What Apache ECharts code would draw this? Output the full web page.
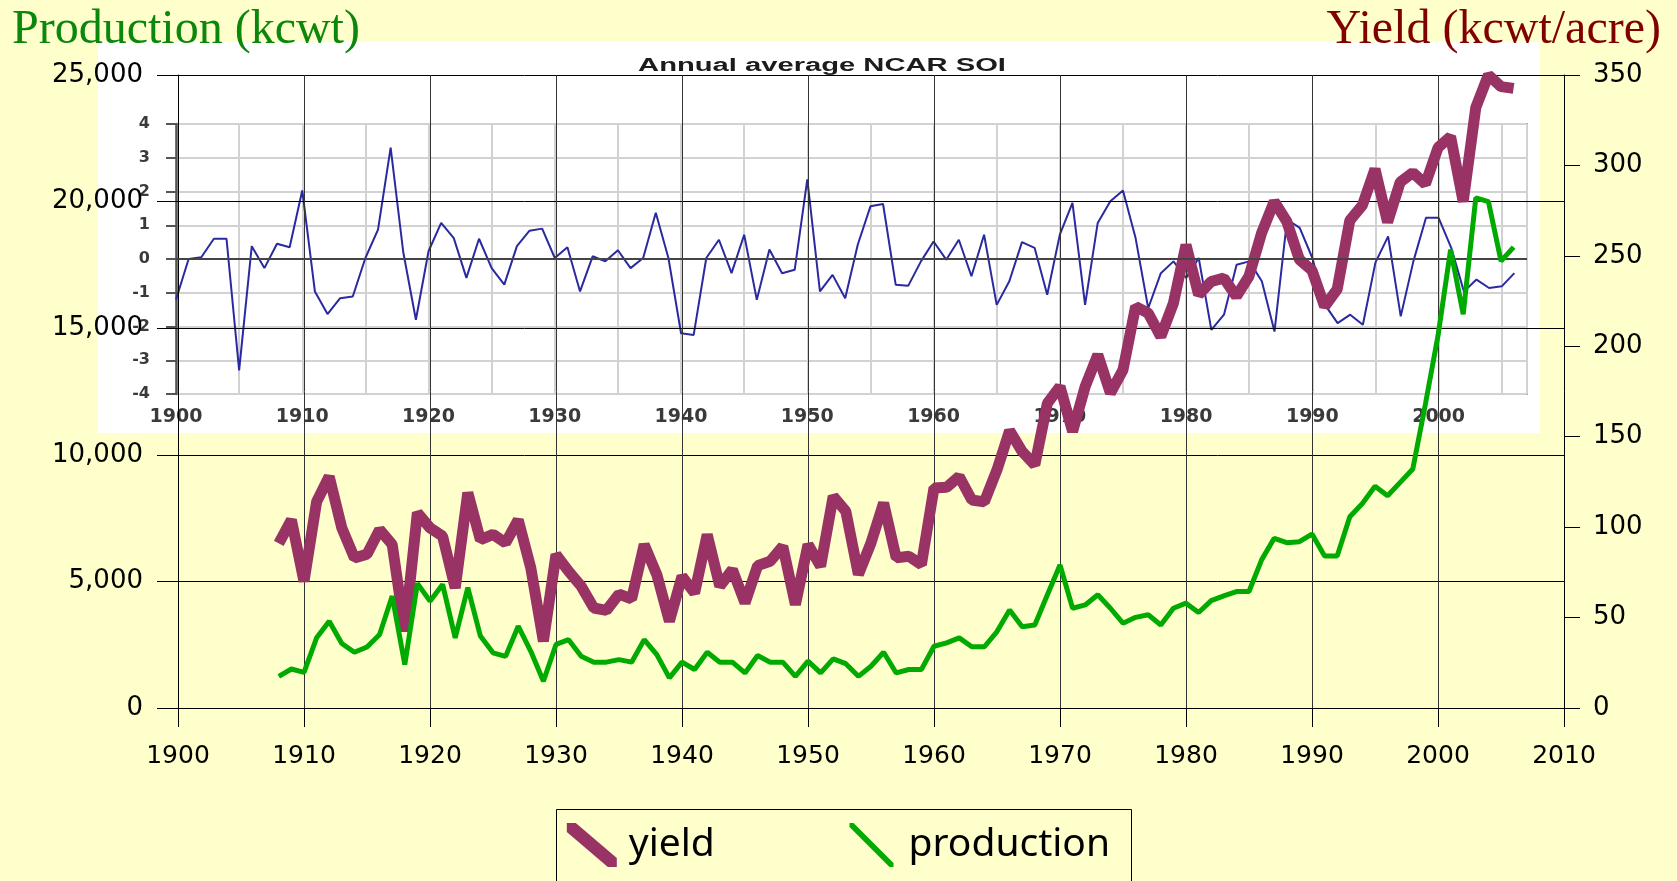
<!DOCTYPE html>
<html>
<head>
<meta charset="utf-8">
<script src="https://cdn.jsdelivr.net/npm/echarts@6/dist/echarts.min.js"></script>
<style>
  html, body { margin: 0; padding: 0; background: #ffffcc; }
  #chart { width: 1677px; height: 881px; }
</style>
</head>
<body>
<div id="chart"></div>
<script>
// Crop years (yield and production series)
const cropYears = [
  1908,1909,1910,1911,1912,1913,1914,1915,1916,1917,
  1918,1919,1920,1921,1922,1923,1924,1925,1926,1927,
  1928,1929,1930,1931,1932,1933,1934,1935,1936,1937,
  1938,1939,1940,1941,1942,1943,1944,1945,1946,1947,
  1948,1949,1950,1951,1952,1953,1954,1955,1956,1957,
  1958,1959,1960,1961,1962,1963,1964,1965,1966,1967,
  1968,1969,1970,1971,1972,1973,1974,1975,1976,1977,
  1978,1979,1980,1981,1982,1983,1984,1985,1986,1987,
  1988,1989,1990,1991,1992,1993,1994,1995,1996,1997,
  1998,1999,2000,2001,2002,2003,2004,2005,2006
];

// Yield, kcwt/acre (right axis)
const yieldValues = [
  91,104,70,114,128,99.6,83,85,98.6,90.4,
  42.4,108,99.6,95,66.4,119,93,96,91.3,104,
  77.4,36.9,84.8,75.6,67.3,55.3,54,63,60.3,90.4,
  73.8,47.9,72.8,63.6,95.9,67.3,76.5,58.1,78.7,81.1,
  89.4,57.2,90.4,78.4,117.1,108.8,73.8,91.3,113.4,83,
  83.9,79.3,121.7,122,128,115,114,131.7,153.4,141.8,
  134.4,168.5,177.8,152.9,177.8,195.3,174.1,187,222,218.3,
  205.4,223.8,256.1,228.5,235.8,237.7,227.6,238.7,262.6,280.1,
  269,248,242,222,231.5,269.6,278,298,268.6,290.8,
  296,289.7,309.8,316,280,332,350,343.6,342.6
];

// Production, kcwt (left axis)
const productionValues = [
  1250,1540,1410,2770,3430,2550,2200,2410,2900,4420,
  1715,4920,4220,4880,2770,4750,2840,2180,2040,3230,
  2240,1055,2510,2700,2040,1810,1810,1910,1810,2700,
  2110,1190,1810,1520,2200,1810,1810,1385,2070,1810,
  1810,1250,1850,1385,1940,1750,1250,1650,2200,1385,
  1520,1520,2440,2570,2770,2420,2420,3020,3870,3210,
  3280,4470,5650,3940,4070,4470,3940,3350,3580,3680,
  3280,3940,4140,3770,4240,4430,4600,4600,5850,6700,
  6530,6570,6870,6000,6000,7550,8080,8760,8380,8910,
  9440,12000,14700,18100,15550,20150,20000,17650,18200
];

// Annual average NCAR SOI (inset)
const soiYears = [
  1900,1901,1902,1903,1904,1905,1906,1907,1908,1909,
  1910,1911,1912,1913,1914,1915,1916,1917,1918,1919,
  1920,1921,1922,1923,1924,1925,1926,1927,1928,1929,
  1930,1931,1932,1933,1934,1935,1936,1937,1938,1939,
  1940,1941,1942,1943,1944,1945,1946,1947,1948,1949,
  1950,1951,1952,1953,1954,1955,1956,1957,1958,1959,
  1960,1961,1962,1963,1964,1965,1966,1967,1968,1969,
  1970,1971,1972,1973,1974,1975,1976,1977,1978,1979,
  1980,1981,1982,1983,1984,1985,1986,1987,1988,1989,
  1990,1991,1992,1993,1994,1995,1996,1997,1998,1999,
  2000,2001,2002,2003,2004,2005,2006
];
const soiValues = [
  -1.2,0.0,0.05,0.6,0.6,-3.3,0.38,-0.27,0.45,0.35,
  2.03,-0.96,-1.63,-1.16,-1.11,0.03,0.87,3.3,0.2,-1.8,
  0.23,1.07,0.62,-0.56,0.6,-0.27,-0.76,0.38,0.84,0.9,
  0.03,0.35,-0.96,0.08,-0.07,0.26,-0.27,0.03,1.37,0.03,
  -2.2,-2.25,0.03,0.57,-0.42,0.72,-1.21,0.28,-0.42,-0.32,
  2.36,-0.96,-0.47,-1.16,0.43,1.56,1.63,-0.76,-0.79,-0.07,
  0.52,-0.02,0.57,-0.51,0.72,-1.36,-0.66,0.5,0.33,-1.06,
  0.72,1.66,-1.36,1.07,1.71,2.03,0.62,-1.46,-0.42,-0.07,
  -0.56,0.03,-2.1,-1.65,-0.17,-0.07,-0.66,-2.15,1.17,0.92,
  0.03,-1.36,-1.9,-1.65,-1.95,-0.1,0.67,-1.7,-0.07,1.22,
  1.22,0.33,-0.96,-0.61,-0.86,-0.81,-0.42
];

// Tick labels
const yearTicks = [1900,1910,1920,1930,1940,1950,1960,1970,1980,1990,2000,2010];
const productionTicks = [0,5000,10000,15000,20000,25000];
const yieldTicks = [0,50,100,150,200,250,300,350];
const soiTicks = [-4,-3,-2,-1,0,1,2,3,4];
const soiYearTicks = [1900,1910,1920,1930,1940,1950,1960,1970,1980,1990,2000];
const soiYearEnd = 2007;

const pairs = (xs, ys) => xs.map((x, i) => [x, ys[i]]);
const step = arr => arr[1] - arr[0];
const last = arr => arr[arr.length - 1];

const AXIS_FONT = '"DejaVu Sans", Verdana, sans-serif';
const SERIF = '"Liberation Serif", "Times New Roman", serif';

// Legend glyphs: diagonal strokes
const yieldIcon = 'path://M0,0 L9,0 L50,35 L50,44 L41,44 L0,9 Z';
const productionIcon = 'path://M0,0 L4,0 L44,40 L44,44 L40,44 L0,4 Z';

const chart = echarts.init(document.getElementById('chart'), null, { renderer: 'canvas', width: 1677, height: 881 });

const option = {
  backgroundColor: '#ffffcc',
  animation: false,
  graphic: [
    { type: 'rect', z: 0, silent: true, shape: { x: 98, y: 42, width: 1442, height: 391 }, style: { fill: '#ffffff' } },
    { type: 'text', z: 1, silent: true, x: 822, y: 66, scaleX: 1.62,
      style: { text: 'Annual average NCAR SOI', font: 'bold 18px "Liberation Sans", Arial, sans-serif', fill: '#1c1c1c', align: 'center', verticalAlign: 'middle' } },
    { type: 'rect', z: 10, silent: true, shape: { x: 556.5, y: 809.5, width: 575, height: 120 }, style: { fill: 'none', stroke: '#000', lineWidth: 1 } }
  ],
  title: [
    { text: 'Production (kcwt)', left: 12, top: 6, padding: 0,
      textStyle: { fontFamily: SERIF, fontSize: 48, fontWeight: 'normal', color: '#0b870b' } },
    { text: 'Yield (kcwt/acre)', right: 16, top: 6, padding: 0,
      textStyle: { fontFamily: SERIF, fontSize: 48, fontWeight: 'normal', color: '#800000' } }
  ],
  legend: [
    { data: [{ name: 'yield', icon: yieldIcon }], left: 566.8, top: 823, padding: 0, itemWidth: 50, itemHeight: 44,
      selectedMode: false, itemStyle: { borderWidth: 0 },
      textStyle: { fontFamily: '"Noto Sans", "Open Sans", sans-serif', fontSize: 39, color: '#000', padding: [0, 0, 0, 7] } },
    { data: [{ name: 'production', icon: productionIcon }], left: 849.5, top: 823, padding: 0, itemWidth: 50, itemHeight: 44,
      selectedMode: false, itemStyle: { borderWidth: 0 },
      textStyle: { fontFamily: '"Noto Sans", "Open Sans", sans-serif', fontSize: 39, color: '#000', padding: [0, 0, 0, 7] } }
  ],
  grid: [
    { left: 178, right: 113, top: 75, bottom: 173, z: 3, outerBoundsMode: 'none' },
    { left: 176, right: 150, top: 124, bottom: 487, z: 1, show: true, backgroundColor: 'transparent',
      borderColor: '#9a9a9a', borderWidth: 2, outerBoundsMode: 'none' }
  ],
  xAxis: [
    { type: 'value', gridIndex: 0, z: 3, min: yearTicks[0], max: last(yearTicks), interval: step(yearTicks),
      axisLine: { show: true, onZero: false, lineStyle: { color: '#000', width: 1 } },
      axisTick: { show: true, inside: false, length: 19, lineStyle: { color: '#000', width: 1 } },
      axisLabel: { margin: 36, fontFamily: AXIS_FONT, fontSize: 25, color: '#000',
        formatter: v => (yearTicks.includes(v) ? String(v) : '') },
      splitLine: { show: true, lineStyle: { color: '#333', width: 1 } } },
    { type: 'value', gridIndex: 1, z: 1, min: soiYearTicks[0], max: soiYearEnd, interval: step(soiYearTicks) / 2,
      axisLine: { show: false },
      axisTick: { show: false },
      axisLabel: { margin: 14, fontFamily: AXIS_FONT, fontWeight: 'bold', fontSize: 19, color: '#3a3a3a',
        formatter: v => (soiYearTicks.includes(v) ? String(v) : '') },
      splitLine: { show: true, lineStyle: { color: '#d2d2d2', width: 2 } } }
  ],
  yAxis: [
    { type: 'value', gridIndex: 0, z: 3, position: 'left', min: productionTicks[0], max: last(productionTicks), interval: step(productionTicks),
      axisLine: { show: true, lineStyle: { color: '#000', width: 1 } },
      axisTick: { show: true, inside: false, length: 21, lineStyle: { color: '#000', width: 1 } },
      axisLabel: { margin: 35, fontFamily: AXIS_FONT, fontSize: 26, color: '#000',
        formatter: v => v.toLocaleString('en-US') },
      splitLine: { show: true, lineStyle: { color: '#000', width: 1 } } },
    { type: 'value', gridIndex: 0, z: 3, position: 'right', min: yieldTicks[0], max: last(yieldTicks), interval: step(yieldTicks),
      axisLine: { show: true, lineStyle: { color: '#000', width: 1 } },
      axisTick: { show: true, inside: false, length: 16, lineStyle: { color: '#000', width: 1 } },
      axisLabel: { margin: 29, fontFamily: AXIS_FONT, fontSize: 26, color: '#000', formatter: v => String(v) },
      splitLine: { show: false } },
    { type: 'value', gridIndex: 1, z: 1, min: soiTicks[0], max: last(soiTicks), interval: step(soiTicks),
      axisLine: { show: true, lineStyle: { color: '#555', width: 2.5 } },
      axisTick: { show: true, inside: false, length: 10, lineStyle: { color: '#555', width: 2 } },
      axisLabel: { margin: 26, fontFamily: AXIS_FONT, fontWeight: 'bold', fontSize: 16, color: '#3a3a3a', formatter: v => String(v) },
      splitLine: { show: true, lineStyle: { color: '#d2d2d2', width: 2 } } }
  ],
  series: [
    { name: 'SOI', type: 'line', xAxisIndex: 1, yAxisIndex: 2, z: 2, showSymbol: false, silent: true,
      data: pairs(soiYears, soiValues),
      lineStyle: { color: '#2a2aa0', width: 2 },
      markLine: { silent: true, symbol: 'none', label: { show: false },
        lineStyle: { color: '#444', width: 2, type: 'solid' }, data: [{ yAxis: 0 }] } },
    { name: 'yield', type: 'line', xAxisIndex: 0, yAxisIndex: 1, z: 4, showSymbol: false, silent: true,
      data: pairs(cropYears, yieldValues),
      itemStyle: { color: '#993366' },
      lineStyle: { color: '#993366', width: 11, join: 'bevel' } },
    { name: 'production', type: 'line', xAxisIndex: 0, yAxisIndex: 0, z: 5, showSymbol: false, silent: true,
      data: pairs(cropYears, productionValues),
      itemStyle: { color: '#00aa00' },
      lineStyle: { color: '#00aa00', width: 5, join: 'bevel' } }
  ]
};

chart.setOption(option);
</script>
</body>
</html>
